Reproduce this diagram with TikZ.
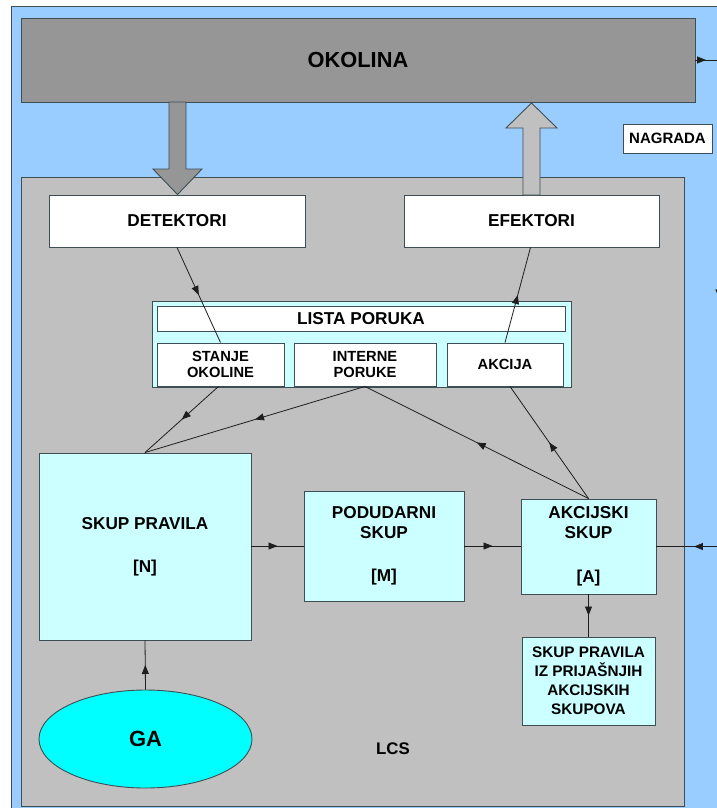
\documentclass[tikz,border=0pt]{standalone}
\usepackage{fontspec}
\setmainfont{Liberation Sans}
\usetikzlibrary{arrows.meta,decorations.markings,shapes.geometric,calc}

\definecolor{skyblue}{RGB}{153,204,255}
\definecolor{envgray}{RGB}{150,150,150}
\definecolor{lcsgray}{RGB}{192,192,192}
\definecolor{palecyan}{RGB}{204,255,255}
\definecolor{gacyan}{RGB}{0,255,255}
\definecolor{edgec}{RGB}{62,78,84}
\definecolor{linec}{RGB}{30,30,30}

\begin{document}
\begin{tikzpicture}[x=1pt,y=-1pt,
  box/.style={draw=edgec, line width=0.9pt, inner sep=0pt, align=center,
    font=\bfseries\fontsize{17.2}{20}\selectfont},
  whitebox/.style={box, fill=white},
  cyanbox/.style={box, fill=palecyan},
  smalltext/.style={font=\bfseries\fontsize{14.7}{16}\selectfont},
  conn/.style={draw=linec, line width=0.8pt},
  midarr/.style={conn, postaction={decorate}, decoration={markings,
    mark=at position #1 with {\arrow{Triangle[length=9pt,width=7pt]}}}},
  midarr/.default=0.5,
  blockarrow/.style={draw=edgec, line width=0.9pt, line join=miter}
]
\useasboundingbox (0,0) rectangle (717,808);
\clip (0,0) rectangle (717,808);
\fill[white] (0,0) rectangle (717,808);

% outer environment frame
\draw[fill=skyblue, draw=edgec, line width=1pt] (11,7) rectangle (760,840);

% environment
\node[box, fill=envgray, minimum width=674pt, minimum height=84pt,
  font=\bfseries\fontsize{21.8}{24}\selectfont] (okolina) at (358,60) {OKOLINA};

% reward label
\node[whitebox, minimum width=89pt, minimum height=29pt,
  font=\bfseries\fontsize{15}{16}\selectfont] (nagrada) at (667.5,138.5) {NAGRADA};

% learning classifier system container
\node[box, fill=lcsgray, minimum width=663pt, minimum height=629pt] (lcsbox) at (352.5,491.5) {};
\node[font=\bfseries\fontsize{16.8}{20}\selectfont] (lcs) at (393,749) {LCS};

% interfaces
\node[whitebox, minimum width=256pt, minimum height=52pt] (detektori) at (177,221) {DETEKTORI};
\node[whitebox, minimum width=255pt, minimum height=52pt] (efektori) at (531.5,221) {EFEKTORI};

% block arrows between environment and the interfaces
\draw[blockarrow, fill=envgray]
  (169,102) -- (186,102) -- (186,169) -- (202,169) -- (177.5,194.5)
  -- (153,169) -- (169,169) -- cycle;
\draw[blockarrow, fill=lcsgray]
  (523,195) -- (540,195) -- (540,128) -- (557,128) -- (531.5,103)
  -- (506,128) -- (523,128) -- cycle;

% message list
\node[cyanbox, minimum width=419pt, minimum height=86pt] (lista) at (361.5,344) {};

% rule sets
\node[cyanbox, minimum width=212pt, minimum height=187pt] (skup) at (145,546.5)
  {SKUP PRAVILA\\[23pt][N]};
\node[cyanbox, minimum width=160pt, minimum height=110pt] (podudarni) at (384,546)
  {PODUDARNI\\SKUP\\[23pt][M]};
\node[cyanbox, minimum width=135pt, minimum height=95pt] (akcijski) at (588.5,546.5)
  {AKCIJSKI\\SKUP\\[24pt][A]};
\node[cyanbox, minimum width=133pt, minimum height=88pt,
  font=\bfseries\fontsize{15.3}{19}\selectfont] (prijasnji) at (588.5,681)
  {SKUP PRAVILA\\IZ PRIJAŠNJIH\\AKCIJSKIH\\SKUPOVA};

% genetic algorithm
\node[ellipse, draw=edgec, line width=0.9pt, fill=gacyan, minimum width=213pt,
  minimum height=98pt, inner sep=0pt, font=\bfseries\fontsize{22}{24}\selectfont]
  (ga) at (145.5,739) {GA};

% message list boxes
\node[whitebox, minimum width=408pt, minimum height=25pt] (listatitle) at (361,318.5) {LISTA PORUKA};
\node[whitebox, smalltext, minimum width=127pt, minimum height=43pt] (stanje) at (220.5,364.5)
  {STANJE\\OKOLINE};
\node[whitebox, smalltext, minimum width=142pt, minimum height=43pt] (interne) at (365,364.5)
  {INTERNE\\PORUKE};
\node[whitebox, smalltext, minimum width=116pt, minimum height=43pt] (akcija) at (505,364.5)
  {AKCIJA};

% connectors
\draw[midarr] (detektori.south) -- (stanje.north);
\draw[midarr] (akcija.north) -- ($(efektori.south)+(-1,0)$);
\draw[midarr] ($(stanje.south)+(-2,0)$) -- (skup.north);
\draw[midarr] (interne.south) -- (skup.north);
\draw[midarr] (akcijski.north) -- (interne.south);
\draw[midarr] (akcijski.north) -- ($(akcija.south)+(5,0)$);
\draw[midarr] (skup.east |- podudarni.west) -- (podudarni.west);
\draw[midarr] (podudarni.east) -- (akcijski.west |- podudarni.east);
\draw[midarr] (akcijski.south) -- (prijasnji.north);
\draw[midarr] (ga.north) -- (skup.south);

% reward loop along the right edge
\coordinate (r1) at (719,60);
\coordinate (r2) at (719,546.5);
\draw[midarr=0.45] (okolina.east) -- (r1);
\draw[midarr=0.49] (r1) -- (r2);
\draw[midarr=0.4] (r2) -- (akcijski.east);
\end{tikzpicture}
\end{document}
